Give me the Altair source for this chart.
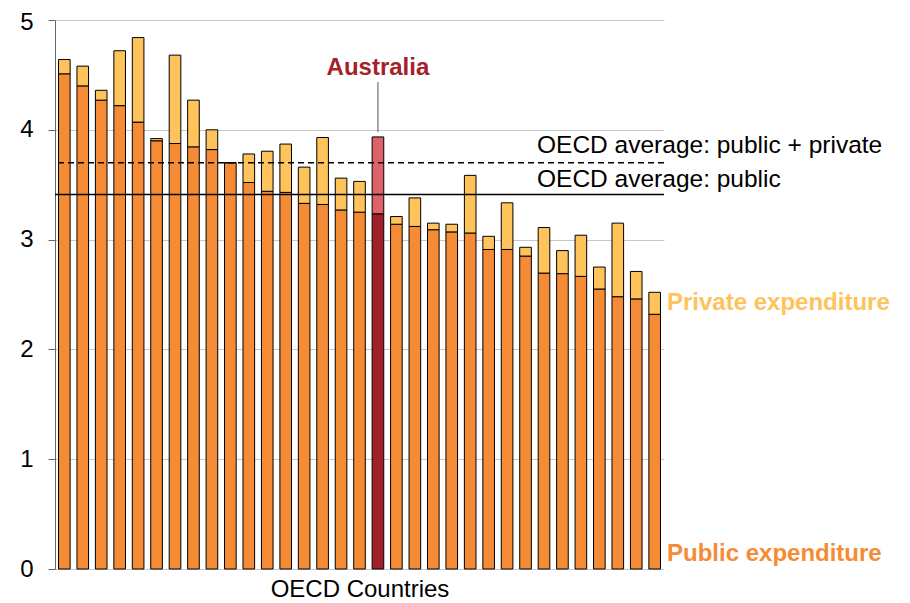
import altair as alt
import pandas as pd

# ---- data ----
countries = [f"C{i+1:02d}" for i in range(33)]
countries[17] = "Australia"
public = [4.51, 4.40, 4.27, 4.22, 4.07, 3.90, 3.875, 3.845, 3.82, 3.70,
          3.52, 3.44, 3.43, 3.33, 3.32, 3.27, 3.25, 3.235, 3.14, 3.12,
          3.09, 3.07, 3.06, 2.91, 2.91, 2.85, 2.695, 2.69, 2.665, 2.55,
          2.48, 2.46, 2.32]
total = [4.64, 4.58, 4.36, 4.72, 4.84, 3.92, 4.68, 4.27, 4.00, 3.70,
         3.78, 3.805, 3.87, 3.66, 3.93, 3.56, 3.53, 3.935, 3.21, 3.38,
         3.15, 3.14, 3.585, 3.03, 3.335, 2.93, 3.11, 2.90, 3.04, 2.75,
         3.15, 2.71, 2.52]
oecd_total = 3.70
oecd_public = 3.41
highlight = "Australia"

FONT = "Liberation Sans"

rows = []
for c, p, t in zip(countries, public, total):
    hl = c == highlight
    rows.append({"country": c, "part": "public", "lo": 0.0, "hi": p,
                 "col": "#A31F2A" if hl else "#F68B35"})
    rows.append({"country": c, "part": "private", "lo": p, "hi": t,
                 "col": "#DF616A" if hl else "#FEC35B"})
df = pd.DataFrame(rows)

xenc = alt.X("country:N", sort=countries,
             scale=alt.Scale(paddingInner=0.37, paddingOuter=0.19),
             axis=alt.Axis(title="OECD Countries", labels=False, ticks=False,
                           domain=False, titleFontSize=24, titleFont=FONT,
                           titleFontWeight="normal", titleColor="#000000",
                           titlePadding=8))
yscale = alt.Scale(domain=[0, 5], nice=False)

bars = alt.Chart(df).mark_bar(stroke="#000000", strokeWidth=1).encode(
    x=xenc,
    y=alt.Y("lo:Q", scale=yscale,
            axis=alt.Axis(title=None, values=[0, 1, 2, 3, 4, 5], format="d",
                          labelFontSize=24, labelFont=FONT, labelColor="#000000",
                          labelOffset={"condition": {"test": "datum.value === 5", "value": 2}, "value": 0},
                          tickSize=7, tickColor="#666666", labelPadding=15,
                          domainColor="#666666", gridColor="#c6c8ca",
                          gridWidth=1)),
    y2="hi:Q",
    color=alt.Color("col:N", scale=None),
)

dashed = alt.Chart(pd.DataFrame({"v": [oecd_total]})).mark_rule(
    color="#000000", strokeWidth=1.5, strokeDash=[6, 4]).encode(y="v:Q")
solid = alt.Chart(pd.DataFrame({"v": [oecd_public]})).mark_rule(
    color="#000000", strokeWidth=1.5).encode(y="v:Q")

leader = alt.Chart(pd.DataFrame({"country": [highlight], "a": [3.98], "b": [4.435]})).mark_rule(
    color="#555555", strokeWidth=1).encode(x=alt.X("country:N", sort=countries), y="a:Q", y2="b:Q")

aus_lbl = alt.Chart(pd.DataFrame({"country": [highlight], "v": [4.56], "t": ["Australia"]})).mark_text(
    font=FONT, fontSize=24, fontWeight="bold", color="#A3222B", baseline="middle").encode(
    x=alt.X("country:N", sort=countries), y="v:Q", text="t:N")

oecd_lbl = alt.Chart(pd.DataFrame({
    "v": [3.85, 3.54],
    "t": ["OECD average: public + private", "OECD average: public"]})).mark_text(
    font=FONT, fontSize=24.5, color="#000000", align="left", baseline="middle").encode(
    x=alt.value(482), y="v:Q", text="t:N")

side_lbl = alt.Chart(pd.DataFrame({
    "v": [2.42, 0.137],
    "t": ["Private expenditure", "Public expenditure"],
    "c": ["#FEC35B", "#F68B35"]})).mark_text(
    font=FONT, fontSize=24, fontWeight="bold", align="left", baseline="middle").encode(
    x=alt.value(612), y="v:Q", text="t:N", color=alt.Color("c:N", scale=None))

chart = alt.layer(bars, dashed, solid, leader, aus_lbl, oecd_lbl, side_lbl).properties(
    width=609, height=549,
    autosize=alt.AutoSizeParams(type="none"),
    padding={"left": 47, "top": 12, "right": 230, "bottom": 34},
).configure_view(stroke=None).configure_axisX(grid=False)

chart.save("out.html", embed_options={"renderer": "svg", "actions": False})
